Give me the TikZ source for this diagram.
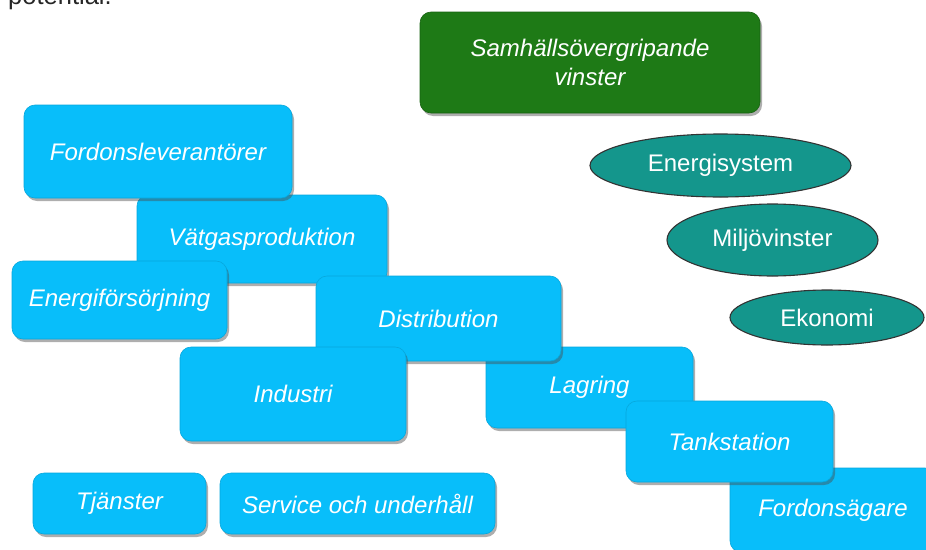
\documentclass[tikz,border=0pt]{standalone}
\usepackage{fontspec}
\setmainfont{Liberation Sans}
\usetikzlibrary{shapes.geometric,shadows}
\definecolor{boxblue}{RGB}{8,190,250}
\definecolor{boxgreen}{RGB}{30,122,22}
\definecolor{ovalteal}{RGB}{20,150,140}
\begin{document}
\begin{tikzpicture}[x=1pt,y=-1pt,
  shad/.style={drop shadow={shadow xshift=2pt, shadow yshift=-3pt, opacity=0.45, fill=black!70}},
  bluebox/.style={rectangle, rounded corners=11pt, fill=boxblue, draw=boxblue!88!black, line width=0.6pt,
    text=white, font=\fontsize{24}{29}\selectfont\itshape, inner sep=0pt, shad},
  greenbox/.style={bluebox, fill=boxgreen, draw=boxgreen!80!black, align=center},
  oval/.style={ellipse, fill=ovalteal, draw=black!80, line width=1.1pt, inner sep=0pt,
    text=white, font=\fontsize{24}{29}\selectfont}]
\useasboundingbox (0,0) rectangle (926,549);
\clip (0,0) rectangle (926,549);
\node[anchor=base west, inner sep=0pt, text=black!85, font=\fontsize{25.5}{30}\selectfont] (pot) at (8,4) {potential.};

\node[greenbox, minimum width=340pt, minimum height=101pt] (samh) at (590,62.5) {Samhällsövergripande\\vinster};

\node[bluebox, minimum width=206pt, minimum height=84pt] (fag) at (833,510) {Fordonsägare};
\node[bluebox, minimum width=207pt, minimum height=81pt] (lag) at (589.5,387.5) {Lagring};
\node[bluebox, minimum width=207pt, minimum height=81pt] (tank) at (729.5,441.5) {Tankstation};
\node[bluebox, minimum width=250pt, minimum height=88pt] (vat) at (262,239) {Vätgasproduktion};
\node[bluebox, minimum width=245pt, minimum height=85pt] (dist) at (438.5,318.5) {Distribution};
\node[bluebox, minimum width=226pt, minimum height=94pt] (ind) at (293,394) {Industri};
\node[bluebox, minimum width=215pt, minimum height=78pt] (ener) at (119.5,300) {Energiförsörjning};
\node[bluebox, minimum width=268pt, minimum height=93pt] (flev) at (158,151.5) {Fordonsleverantörer};
\node[bluebox, minimum width=173pt, minimum height=61pt] (tja) at (119.5,503.5) {Tjänster};
\node[bluebox, minimum width=275pt, minimum height=61pt] (serv) at (357.5,503.5) {Service och underhåll};

\node[oval, minimum width=261pt, minimum height=63pt] (esys) at (720.5,165.5) {Energisystem};
\node[oval, minimum width=211pt, minimum height=72pt] (milj) at (772.5,240) {Miljövinster};
\node[oval, minimum width=194pt, minimum height=55pt] (eko) at (827,317.5) {Ekonomi};
\end{tikzpicture}
\end{document}
